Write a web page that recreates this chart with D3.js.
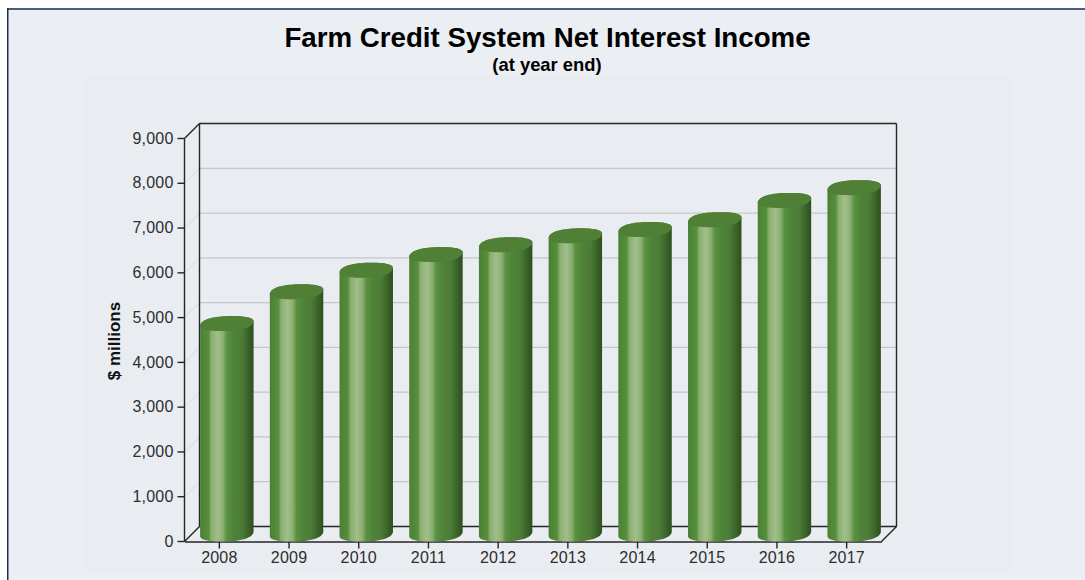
<!DOCTYPE html>
<html>
<head>
<meta charset="utf-8">
<script src="https://cdnjs.cloudflare.com/ajax/libs/d3/7.8.5/d3.min.js"></script>
<style>
  html, body { margin: 0; padding: 0; background: #fff; }
  svg { display: block; }
  text { font-family: "Liberation Sans", Arial, sans-serif; }
</style>
</head>
<body>
<svg id="chart" width="1085" height="580"></svg>
<script>
const years = ["2008", "2009", "2010", "2011", "2012", "2013", "2014", "2015", "2016", "2017"];
const netInterestIncome = [4700, 5410, 5890, 6240, 6460, 6660, 6800, 7020, 7450, 7735];
const yTicks = [0, 1000, 2000, 3000, 4000, 5000, 6000, 7000, 8000, 9000];
const titleText = "Farm Credit System Net Interest Income";
const subtitleText = "(at year end)";
const yAxisLabel = "$ millions";

const svg = d3.select("#chart");
const depth = 15;
const plot = { left: 184.5, right: 881.5, top: 138.5, bottom: 541.5 };

const x = d3.scaleBand().domain(years)
  .range([plot.left, plot.right]).paddingInner(0.24).paddingOuter(0.12);
const y = d3.scaleLinear().domain([0, 9000]).range([plot.bottom, plot.top]);

// Page panels
svg.append("rect").attr("x", 7).attr("y", 8).attr("width", 1078).attr("height", 572).attr("fill", "#ebeef3");
svg.append("rect").attr("x", 83).attr("y", 76).attr("width", 929).attr("height", 497).attr("fill", "#e9ecf1");
svg.append("rect").attr("x", 7).attr("y", 8).attr("width", 1078).attr("height", 2).attr("fill", "#4c5c7c");
svg.append("rect").attr("x", 7).attr("y", 8).attr("width", 1.5).attr("height", 572).attr("fill", "#1c2c54");

// Cylinder shading, running left to right across the body
const defs = svg.append("defs");
const bodyStops = [
  [0, "#4a8035"], [0.16, "#568f3c"], [0.21, "#8bae72"], [0.33, "#a0bf8a"], [0.43, "#8bae72"],
  [0.5, "#5a9140"], [0.62, "#4f8438"], [0.78, "#4c7b37"], [0.9, "#3a6329"], [1, "#2e4e20"]
];
defs.append("linearGradient").attr("id", "cylinderBody")
  .selectAll("stop").data(bodyStops).join("stop")
  .attr("offset", d => d[0]).attr("stop-color", d => d[1]);

// Back wall, floor edges and gridlines
const frame = svg.append("g").attr("fill", "none");
yTicks.slice(1, -1).forEach(t => {
  frame.append("line").attr("x1", plot.left).attr("y1", y(t))
    .attr("x2", plot.left + depth).attr("y2", y(t) - depth)
    .attr("stroke", "#d6d9dd").attr("stroke-width", 1);
  frame.append("line").attr("x1", plot.left + depth).attr("y1", y(t) - depth)
    .attr("x2", plot.right + depth).attr("y2", y(t) - depth)
    .attr("stroke", "#c3c7ca").attr("stroke-width", 1.3);
});
const edge = (x1, y1, x2, y2) => frame.append("line")
  .attr("x1", x1).attr("y1", y1).attr("x2", x2).attr("y2", y2)
  .attr("stroke", "#262626").attr("stroke-width", 1.4);
edge(plot.left + depth, plot.top - depth, plot.right + depth, plot.top - depth);
edge(plot.left + depth, plot.top - depth, plot.left + depth, plot.bottom - depth);
edge(plot.right + depth, plot.top - depth, plot.right + depth, plot.bottom - depth);
edge(plot.left + depth, plot.bottom - depth, plot.right + depth, plot.bottom - depth);
edge(plot.left, plot.top, plot.left + depth, plot.top - depth);
edge(plot.left, plot.bottom, plot.left + depth, plot.bottom - depth);
edge(plot.right, plot.bottom, plot.right + depth, plot.bottom - depth);

// Axes
const yAxis = svg.append("g").attr("transform", `translate(${plot.left},0)`)
  .call(d3.axisLeft(y).tickValues(yTicks).tickFormat(d3.format(",")).tickSize(7).tickSizeOuter(0).offset(0));
const xAxis = svg.append("g").attr("transform", `translate(0,${plot.bottom})`)
  .call(d3.axisBottom(x).tickSize(7).tickSizeOuter(0).offset(0.5));
[yAxis, xAxis].forEach(a => {
  a.selectAll(".domain, .tick line").attr("stroke", "#262626").attr("stroke-width", 1.4);
  a.selectAll("text").attr("fill", "#2e2e2e").style("font-size", "16px").style("letter-spacing", "0.2px");
});
yAxis.selectAll("text").attr("x", -11);
xAxis.selectAll("text").attr("y", 10);

// Cylinders: the cap is a rounded oval sheared slightly along the depth direction,
// the value sits at the front of the cap and the base rests on the floor
const halfWidth = x.bandwidth() / 2;
const ry = depth / 2;
const shear = 5;
const rx = halfWidth - 0.6;
const roundness = 0.85;
const signedPow = v => Math.sign(v) * Math.pow(Math.abs(v), roundness);
const capAngles = d3.range(0, 72).map(i => i * 2 * Math.PI / 72);
const capOutline = (cx, cy) => capAngles.map(t => {
  const c = signedPow(Math.cos(t));
  const s = signedPow(Math.sin(t));
  return [cx + rx * c + shear * s, cy - ry * s];
});
const outline = d3.line();
const centreX = d => x(d.year) + halfWidth + depth / 2;
const capY = d => y(d.value) - ry;

const bars = svg.append("g").selectAll("g")
  .data(years.map((year, i) => ({ year, value: netInterestIncome[i] })))
  .join("g");
bars.append("path")
  .attr("fill", "url(#cylinderBody)")
  .attr("d", d => {
    const hull = d3.polygonHull(capOutline(centreX(d), capY(d)).concat(capOutline(centreX(d), y(0) - ry)));
    return outline(hull) + "Z";
  });
bars.append("path")
  .attr("fill", "#507f36")
  .attr("d", d => outline(capOutline(centreX(d), capY(d))) + "Z");

// Titles
svg.append("text").attr("x", 547.5).attr("y", 47).attr("text-anchor", "middle")
  .attr("font-weight", "bold").attr("font-size", 27.7).attr("fill", "#000").text(titleText);
svg.append("text").attr("x", 547).attr("y", 71).attr("text-anchor", "middle")
  .attr("font-weight", "bold").attr("font-size", 18.4).attr("fill", "#000").text(subtitleText);
svg.append("text").attr("transform", "translate(120,341) rotate(-90)").attr("text-anchor", "middle")
  .attr("font-weight", "bold").attr("font-size", 17).attr("fill", "#111").text(yAxisLabel);
</script>
</body>
</html>
